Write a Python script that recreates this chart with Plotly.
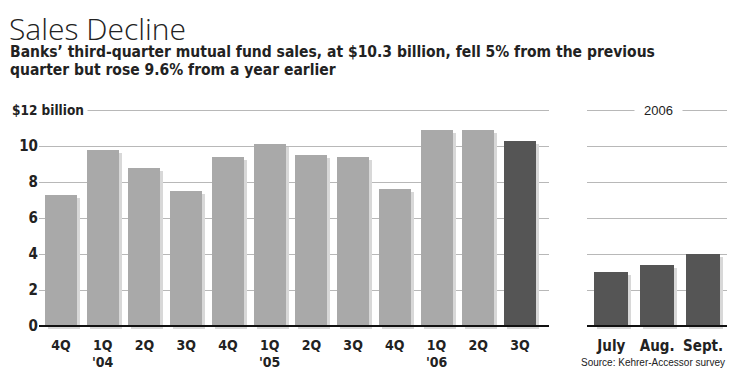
import plotly.graph_objects as go

# ---- data ----
quarter_labels = ["4Q", "1Q", "2Q", "3Q", "4Q", "1Q", "2Q", "3Q", "4Q", "1Q", "2Q", "3Q"]
year_labels = ["", "'04", "", "", "", "'05", "", "", "", "'06", "", ""]
quarter_sales = [7.3, 9.8, 8.8, 7.5, 9.4, 10.1, 9.5, 9.4, 7.6, 10.9, 10.9, 10.3]
month_labels = ["July", "Aug.", "Sept."]
month_sales = [3.0, 3.4, 4.0]
y_tick_vals = [0, 2, 4, 6, 8, 10, 12]
y_tick_text = ["0", "2", "4", "6", "8", "10", ""]

# ---- style ----
LIGHT = "#a9a9a9"
DARK = "#555555"
SHADOW = "#d8d8d8"
GRID = "#b8b8b8"
TEXT = "#222222"
NARROW = "DejaVu Sans Condensed, Liberation Sans Narrow, sans-serif"
SANS = "Liberation Sans, Arial, Helvetica, sans-serif"

qx = list(range(len(quarter_labels)))
mx = list(range(len(month_labels)))
q_colors = [LIGHT] * (len(quarter_sales) - 1) + [DARK]

qw = 0.767
mw = 0.74
dy = 0.167
qdx = 0.072
mdx = 0.065

fig = go.Figure()

# shadows
fig.add_trace(go.Bar(x=qx, y=quarter_sales, base=-dy, width=qw, offset=-qw / 2 + qdx,
                     marker=dict(color=SHADOW, line=dict(width=0)),
                     xaxis="x", yaxis="y", hoverinfo="skip", showlegend=False))
fig.add_trace(go.Bar(x=mx, y=month_sales, base=-dy, width=mw, offset=-mw / 2 + mdx,
                     marker=dict(color=SHADOW, line=dict(width=0)),
                     xaxis="x2", yaxis="y2", hoverinfo="skip", showlegend=False))
# bars
fig.add_trace(go.Bar(x=qx, y=quarter_sales, width=qw, offset=-qw / 2,
                     marker=dict(color=q_colors, line=dict(width=0)),
                     xaxis="x", yaxis="y", showlegend=False))
fig.add_trace(go.Bar(x=mx, y=month_sales, width=mw, offset=-mw / 2,
                     marker=dict(color=DARK, line=dict(width=0)),
                     xaxis="x2", yaxis="y2", showlegend=False))

yrange = [-0.5, 12.5]
common_y = dict(range=yrange, showgrid=True, gridcolor=GRID, gridwidth=1,
                zeroline=True, zerolinecolor="#111111", zerolinewidth=1.6,
                zerolinelayer="above traces", automargin=False,
                tickvals=y_tick_vals, ticks="", showline=False, fixedrange=True)

tick_font_q = dict(family=NARROW, size=14, color=TEXT, weight="bold")
tick_font_m = dict(family=NARROW, size=15, color=TEXT, weight="bold")

# page body has an 8px margin, so the figure is laid out 8px up/left of page coords
fig.update_layout(
    width=732, height=368, autosize=False,
    margin=dict(l=31, r=13, t=93, b=41),
    paper_bgcolor="white", plot_bgcolor="white",
    barmode="overlay", bargap=0,
    xaxis=dict(domain=[0, 0.7413], range=[-0.527, 11.695], automargin=False,
               tickvals=qx, ticktext=quarter_labels, ticks="", showgrid=False,
               zeroline=False, showline=False, tickfont=tick_font_q),
    xaxis2=dict(domain=[0.7965, 1], range=[-0.53, 2.52], anchor="y2", automargin=False,
                tickvals=mx, ticktext=month_labels, ticks="", showgrid=False,
                zeroline=False, showline=False, tickfont=tick_font_m),
    yaxis=dict(**common_y, ticktext=y_tick_text, showticklabels=True,
               tickfont=dict(family=NARROW, size=15, color=TEXT, weight="bold")),
    yaxis2=dict(**common_y, anchor="x2", showticklabels=False),
    title=dict(text="Sales Decline", x=1 / 732, xanchor="left", xref="container",
               y=1 - 21 / 368, yanchor="middle", yref="container",
               font=dict(family="Open Sans, Liberation Sans, sans-serif", size=30,
                         color=TEXT, weight=300)),
)

pl = -31 / 688  # left edge of the figure in paper units

fig.add_annotation(text="Banks\u2019 third-quarter mutual fund sales, at $10.3 billion, fell 5% from the previous",
                   xref="paper", yref="paper", x=pl, y=(335 - 51.5) / 234,
                   xanchor="left", yanchor="middle", showarrow=False,
                   font=dict(family=NARROW, size=15.5, color=TEXT, weight="bold"))
fig.add_annotation(text="quarter but rose 9.6% from a year earlier",
                   xref="paper", yref="paper", x=pl, y=(335 - 70) / 234,
                   xanchor="left", yanchor="middle", showarrow=False,
                   font=dict(family=NARROW, size=15.5, color=TEXT, weight="bold"))
fig.add_annotation(text="$12 billion", xref="paper", yref="y", x=pl, y=12,
                   xanchor="left", yanchor="middle", showarrow=False,
                   bgcolor="white", borderpad=3,
                   font=dict(family=NARROW, size=13.5, color=TEXT, weight="bold"))
fig.add_annotation(text="2006", xref="x2 domain", yref="y2", x=0.51, y=12,
                   xanchor="center", yanchor="middle", showarrow=False,
                   bgcolor="white", borderpad=9,
                   font=dict(family=SANS, size=13, color=TEXT))
fig.add_annotation(text="Source: Kehrer-Accessor survey", xref="x2 domain", yref="paper",
                   x=1.0, y=(335 - 362) / 234, xanchor="right", yanchor="middle",
                   showarrow=False,
                   font=dict(family=SANS, size=10, color=TEXT))
for i, yl in enumerate(year_labels):
    if yl:
        fig.add_annotation(text=yl, xref="x", yref="paper", x=qx[i], y=(335 - 361.5) / 234,
                           xanchor="center", yanchor="middle", showarrow=False,
                           font=tick_font_q)

fig.write_html("out.html")
